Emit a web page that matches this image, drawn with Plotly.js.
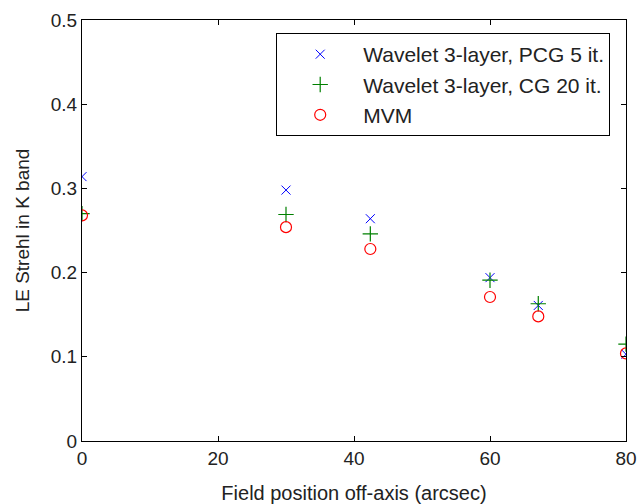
<!DOCTYPE html>
<html>
<head>
<meta charset="utf-8">
<script src="https://cdn.plot.ly/plotly-3.0.1.min.js"></script>
<style>html,body{margin:0;padding:0;background:#fff;}#chart{width:639px;height:504px;}</style>
</head>
<body>
<div id="chart"></div>
<script>
const fieldPos = [0, 30, 42.4, 60, 67.1, 80];
const pcgStrehl = [0.314, 0.298, 0.264, 0.194, 0.161, 0.103];
const cgStrehl = [0.270, 0.269, 0.246, 0.191, 0.163, 0.115];
const mvmStrehl = [0.268, 0.254, 0.228, 0.171, 0.148, 0.104];
const seriesNames = ['Wavelet 3-layer, PCG 5 it.', 'Wavelet 3-layer, CG 20 it.', 'MVM'];
const xTicks = [0, 20, 40, 60, 80];
const yTicks = [0, 0.1, 0.2, 0.3, 0.4, 0.5];

const FONT = 'Liberation Sans, Arial, sans-serif';

const traces = [
  {x: fieldPos, y: pcgStrehl, name: seriesNames[0], mode: 'markers', legendgroup: 'a',
   marker: {symbol: 'x-thin-open', size: 9, color: '#0000ff', line: {width: 1, color: '#0000ff'}}},
  {x: fieldPos, y: cgStrehl, name: seriesNames[1], mode: 'markers', legendgroup: 'b',
   marker: {symbol: 'cross-thin-open', size: 11, color: '#008000', line: {width: 1.2, color: '#008000'}}},
  {x: fieldPos, y: mvmStrehl, name: seriesNames[2], mode: 'markers', legendgroup: 'c',
   marker: {symbol: 'circle-open', size: 11, color: '#ff0000', line: {width: 1.2, color: '#ff0000'}}}
];

const axisCommon = {
  showgrid: false, zeroline: false, showline: true, linecolor: '#000', linewidth: 1,
  mirror: 'ticks', ticks: 'inside', ticklen: 5, tickwidth: 1, tickcolor: '#000',
  tickfont: {family: FONT, size: 19, color: '#222'}
};

const layout = {
  width: 639, height: 504,
  margin: {l: 82, r: 13, t: 20, b: 63},
  paper_bgcolor: '#fff', plot_bgcolor: '#fff',
  font: {family: FONT, size: 19, color: '#222'},
  xaxis: Object.assign({}, axisCommon, {
    range: [0, 80], tickvals: xTicks, ticktext: xTicks.map(String),
    title: {text: 'Field position off-axis (arcsec)', font: {family: FONT, size: 20, color: '#222'}, standoff: 18}
  }),
  yaxis: Object.assign({}, axisCommon, {
    range: [0, 0.5], tickvals: yTicks, ticktext: yTicks.map(v => String(v)),
    title: {text: 'LE Strehl in K band', font: {family: FONT, size: 19, color: '#222'}, standoff: 16}
  }),
  showlegend: true,
  legend: {
    x: 0.357, y: 0.969, xanchor: 'left', yanchor: 'top',
    bordercolor: '#000', borderwidth: 1, bgcolor: '#fff',
    font: {family: FONT, size: 21, color: '#222'},
    traceorder: 'grouped', tracegroupgap: 0, itemwidth: 76
  }
};

Plotly.newPlot('chart', traces, layout, {displayModeBar: false, staticPlot: true});
</script>
</body>
</html>
